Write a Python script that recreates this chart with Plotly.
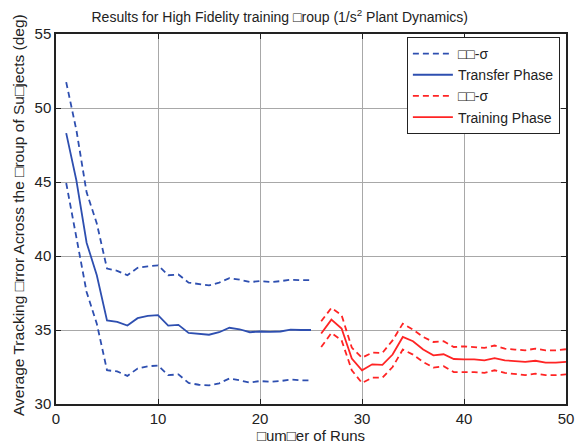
import plotly.graph_objects as go

runs_transfer = list(range(1, 26))
transfer_mean = [48.3, 45.1, 40.9, 38.7, 35.65, 35.55, 35.3, 35.8, 35.95, 36.0,
                 35.3, 35.35, 34.8, 34.75, 34.68, 34.85, 35.15, 35.05, 34.85, 34.9,
                 34.87, 34.9, 35.03, 35.0, 35.0]
transfer_upper = [51.75, 48.5, 44.3, 42.2, 39.15, 39.0, 38.7, 39.2, 39.3, 39.37,
                  38.7, 38.75, 38.2, 38.1, 38.02, 38.2, 38.5, 38.4, 38.24, 38.3,
                  38.24, 38.3, 38.4, 38.37, 38.37]
transfer_lower = [44.93, 41.3, 37.57, 35.43, 32.28, 32.2, 31.9, 32.4, 32.55, 32.6,
                  31.95, 32.0, 31.42, 31.3, 31.26, 31.4, 31.72, 31.6, 31.45, 31.55,
                  31.5, 31.55, 31.65, 31.6, 31.6]

runs_training = list(range(26, 51))
training_mean = [34.76, 35.7, 35.1, 33.07, 32.28, 32.68, 32.65, 33.34, 34.53, 34.24,
                 33.68, 33.29, 33.36, 33.04, 33.02, 33.02, 32.95, 33.1, 32.95, 32.9,
                 32.85, 32.92, 32.8, 32.8, 32.85]
training_upper = [35.59, 36.49, 36.0, 33.81, 33.13, 33.47, 33.45, 34.3, 35.43, 35.03,
                  34.53, 34.19, 34.24, 33.85, 33.9, 33.85, 33.79, 33.95, 33.74, 33.68,
                  33.63, 33.74, 33.63, 33.63, 33.7]
training_lower = [33.85, 34.8, 34.3, 32.28, 31.42, 31.78, 31.78, 32.5, 33.68, 33.34,
                  32.84, 32.46, 32.55, 32.16, 32.16, 32.16, 32.1, 32.28, 32.1, 32.0,
                  31.95, 32.05, 31.95, 31.95, 32.0]

x_ticks = [0, 10, 20, 30, 40, 50]
y_ticks = [30, 35, 40, 45, 50, 55]

BLUE = "#2E4FB0"
RED = "#FF2424"
DASH = "6px,4px"
sigma_label = "\u25a1\u25a1-\u03c3"

fig = go.Figure()
fig.add_trace(go.Scatter(x=runs_transfer, y=transfer_upper, mode="lines",
                         line=dict(color=BLUE, width=1.8, dash=DASH),
                         name=sigma_label))
fig.add_trace(go.Scatter(x=runs_transfer, y=transfer_lower, mode="lines",
                         line=dict(color=BLUE, width=1.8, dash=DASH),
                         name=sigma_label, showlegend=False))
fig.add_trace(go.Scatter(x=runs_transfer, y=transfer_mean, mode="lines",
                         line=dict(color=BLUE, width=1.8),
                         name="Transfer Phase"))
fig.add_trace(go.Scatter(x=runs_training, y=training_upper, mode="lines",
                         line=dict(color=RED, width=1.8, dash=DASH),
                         name=sigma_label))
fig.add_trace(go.Scatter(x=runs_training, y=training_lower, mode="lines",
                         line=dict(color=RED, width=1.8, dash=DASH),
                         name=sigma_label, showlegend=False))
fig.add_trace(go.Scatter(x=runs_training, y=training_mean, mode="lines",
                         line=dict(color=RED, width=1.8),
                         name="Training Phase"))

font_family = "Liberation Sans, Arial, sans-serif"
fig.update_layout(
    width=578, height=445,
    margin=dict(l=56, r=12, t=34, b=41, autoexpand=False),
    paper_bgcolor="white", plot_bgcolor="white",
    font=dict(family=font_family, size=15, color="#222"),
    title=dict(text="Results for High Fidelity training \u25a1roup (1/s<sup>2</sup> Plant Dynamics)",
               x=0.484, xanchor="center", y=0.962, yanchor="middle",
               font=dict(size=14, color="#222")),
    showlegend=True,
    legend=dict(x=0.988, xanchor="right", y=0.992, yanchor="top",
                bgcolor="white", bordercolor="#222", borderwidth=1,
                font=dict(size=14, color="#222"), tracegroupgap=0,
                itemwidth=40),
    annotations=[dict(text="Average Tracking \u25a1rror Across the \u25a1roup of Su\u25a1jects (deg)",
                      textangle=-90, xref="paper", yref="paper",
                      x=(18 - 56) / 510, y=(404 - 215) / 370,
                      xanchor="center", yanchor="middle", showarrow=False,
                      font=dict(size=15.5, color="#222"))],
)
fig.update_xaxes(range=[0, 50], tickvals=x_ticks, automargin=False,
                 showgrid=True, gridcolor="#a8a8a8", gridwidth=1,
                 showline=True, linecolor="#222", linewidth=1.5, mirror="ticks",
                 ticks="inside", ticklen=5, tickcolor="#222",
                 zeroline=False, tickfont=dict(size=15),
                 title=dict(text="\u25a1um\u25a1er of Runs", standoff=2,
                            font=dict(size=15)))
fig.update_yaxes(range=[30, 55], tickvals=y_ticks, automargin=False,
                 showgrid=True, gridcolor="#a8a8a8", gridwidth=1,
                 showline=True, linecolor="#222", linewidth=1.5, mirror="ticks",
                 ticks="inside", ticklen=5, tickcolor="#222",
                 zeroline=False, tickfont=dict(size=15))

fig.write_html("out.html", config={"displayModeBar": False},
               post_script="document.body.style.margin='0';")
